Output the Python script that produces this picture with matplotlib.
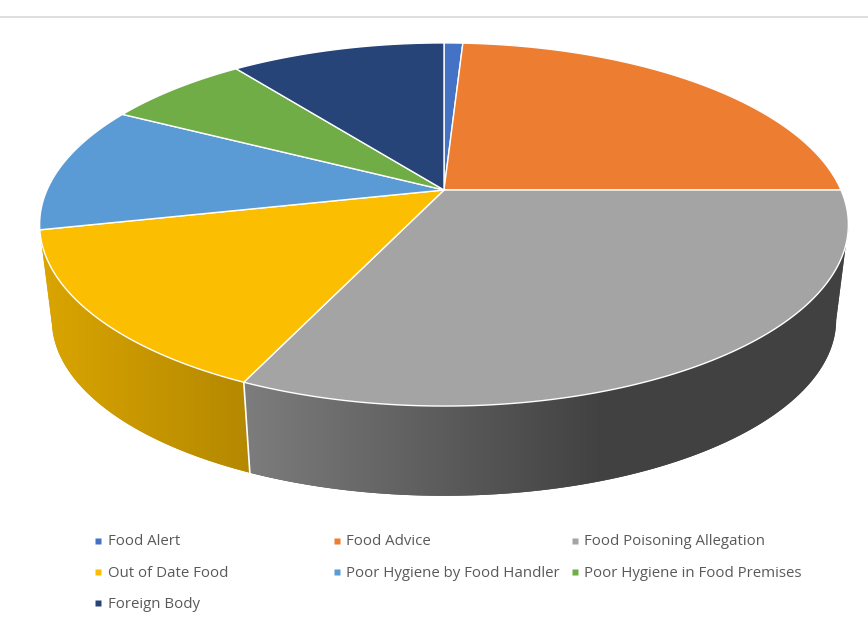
import numpy as np
import matplotlib
matplotlib.use('Agg')
import matplotlib.pyplot as plt
from matplotlib.colors import to_rgb

categories = ['Food Alert', 'Food Advice', 'Food Poisoning Allegation',
              'Out of Date Food', 'Poor Hygiene by Food Handler',
              'Poor Hygiene in Food Premises', 'Foreign Body']
values = [0.9, 24.1, 31.85, 14.65, 11.3, 6.9, 10.3]
colors = ['#4472C4', '#EC7D31', '#A4A4A4', '#FBBE00', '#5B9BD5', '#70AD47', '#264478']

# perspective tilt of the disc, and the two rims in pixel units
TILT = 0.19
TOP_RIM = (444.0, 190.0, 397.0, 175.0)
BOTTOM_RIM = (444.0, 286.4, 385.0, 169.6)


def rim_points(deg, rim):
    # clockwise degrees from 12 o'clock -> screen position on a rim
    cx, cy, a, b = rim
    t = np.radians(deg)
    u, v = np.sin(t), np.cos(t)
    w = 1 + TILT * v
    return cx + a * u / w, cy - b * v / w


def wall_shade(x, cat):
    # side wall gets darker towards the right, then stays flat
    if cat == 3:
        return np.interp(x, [40, 245], [0.87, 0.72])
    return np.interp(x, [245, 600], [0.76, 0.40])


fig = plt.figure(figsize=(8.68, 6.19), dpi=100)
ax = fig.add_axes([0, 0, 1, 1])
ax.axis('off')

ax.plot([0, 868], [16.5, 16.5], color='#D9D9D9', lw=1.2)

edges = np.concatenate([[0], np.cumsum(values)]) / np.sum(values) * 360

# side walls, only the two front slices show
for i in [2, 3]:
    deg = np.linspace(edges[i], edges[i + 1], 300)
    tx, ty = rim_points(deg, TOP_RIM)
    # start at the widest point so the outer silhouette is a straight edge
    if i == 2:
        widest = np.argmax(tx)
        deg = deg[widest:]
        tx, ty = tx[widest:], ty[widest:]
    bx, by = rim_points(deg, BOTTOM_RIM)
    wx = np.r_[tx, bx[::-1]]
    wy = np.r_[ty, by[::-1]]
    # horizontal gradient, clipped to the wall outline
    xs = np.arange(np.floor(wx.min()), np.ceil(wx.max()) + 1)
    base = np.array(to_rgb(colors[i]))
    grad = np.array([base * wall_shade(x, i) for x in xs])[np.newaxis, :, :]
    outline = ax.fill(wx, wy, facecolor=grad[0, len(xs) // 2], edgecolor='none', zorder=2)[0]
    im = ax.imshow(grad, extent=[xs[0], xs[-1], wy.max(), wy.min()], aspect='auto',
                   interpolation='bilinear', zorder=2.5)
    im.set_clip_path(outline)

# imshow resets the limits, so set them after the walls
ax.set_xlim(0, 868)
ax.set_ylim(619, 0)

# seam between the two walls
sx0, sy0 = rim_points(edges[3], TOP_RIM)
sx1, sy1 = rim_points(edges[3], BOTTOM_RIM)
ax.plot([sx0, sx1], [sy0, sy1], color='white', lw=1.2, zorder=3)

# top face
cx, cy = TOP_RIM[:2]
for i, col in enumerate(colors):
    deg = np.linspace(edges[i], edges[i + 1], 200)
    xs, ys = rim_points(deg, TOP_RIM)
    ax.fill(np.r_[cx, xs], np.r_[cy, ys], facecolor=col, edgecolor='white',
            lw=1.0, joinstyle='round', zorder=4)

# legend, three equal columns
marker_x = [98.3, 336.6, 574.8]
text_x = [108, 346, 584]
row_y = [540.7, 571.9, 603]
for i, name in enumerate(categories):
    y = row_y[i // 3]
    ax.plot(marker_x[i % 3], y, marker='s', ms=4.4, color=colors[i], mec='none', zorder=5)
    ax.text(text_x[i % 3], y + 1.2, name, fontsize=10.85, family='Open Sans', color='#595959',
            va='center', ha='left')

fig.savefig('out.png', dpi=100)
